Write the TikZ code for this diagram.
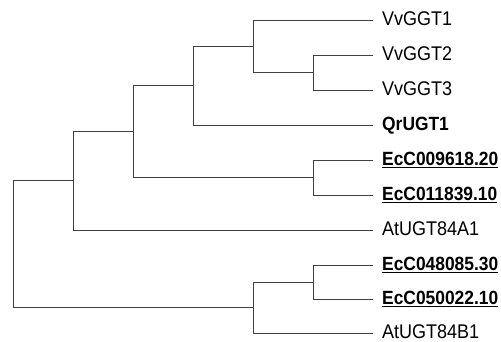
\documentclass[tikz,border=0pt]{standalone}
\usepackage{fontspec}
\setmainfont{Liberation Sans}

\tikzset{
  branch/.style={draw=black!75, line width=1pt},
  leaf/.style={anchor=west, inner sep=0pt, xshift=9pt, yshift=-1.5pt, yscale=1.1,
    text height=0.72em, text depth=0pt, font=\fontsize{18}{20}\selectfont},
  ec/.style={leaf, font=\fontsize{17.4}{20}\selectfont\bfseries}
}

\begin{document}
\begin{tikzpicture}[x=1pt, y=-1pt]
\useasboundingbox (0,0) rectangle (501,342);

% the tips of the tree
\coordinate (l1) at (373,20.5);
\coordinate (l2) at (373,55.5);
\coordinate (l3) at (373,90.5);
\coordinate (l4) at (373,125.5);
\coordinate (l5) at (373,160.5);
\coordinate (l6) at (373,195.5);
\coordinate (l7) at (373,230.5);
\coordinate (l8) at (373,265.5);
\coordinate (l9) at (373,299.5);
\coordinate (l10) at (373,333.5);

% the inner nodes
\coordinate (G) at (313.5,72.5);
\coordinate (F) at (253.5,46.5);
\coordinate (D) at (193.5,85.5);
\coordinate (E) at (313.5,177.5);
\coordinate (C) at (133.5,131.5);
\coordinate (A) at (73.5,180.5);
\coordinate (H) at (313.5,282.5);
\coordinate (B) at (253.5,307.5);
\coordinate (R) at (13.5,243.5);

% we draw the branches
\foreach \p/\c in {R/A, R/B, A/C, A/l7, C/D, C/E, D/F, D/l4, F/l1, F/G,
  G/l2, G/l3, E/l5, E/l6, B/H, B/l10, H/l8, H/l9}
  \draw[branch] (\p) |- (\c);

% we add the labels
\node[leaf] (vv1) at (l1) {VvGGT1};
\node[leaf] (vv2) at (l2) {VvGGT2};
\node[leaf] (vv3) at (l3) {VvGGT3};
\node[ec] (qr1) at (l4) {QrUGT1};
\node[ec] (ec1) at (l5) {\underline{EcC009618.20}};
\node[ec] (ec2) at (l6) {\underline{EcC011839.10}};
\node[leaf] (at1) at (l7) {AtUGT84A1};
\node[ec] (ec3) at (l8) {\underline{EcC048085.30}};
\node[ec] (ec4) at (l9) {\underline{EcC050022.10}};
\node[leaf] (at2) at (l10) {AtUGT84B1};

\end{tikzpicture}
\end{document}
